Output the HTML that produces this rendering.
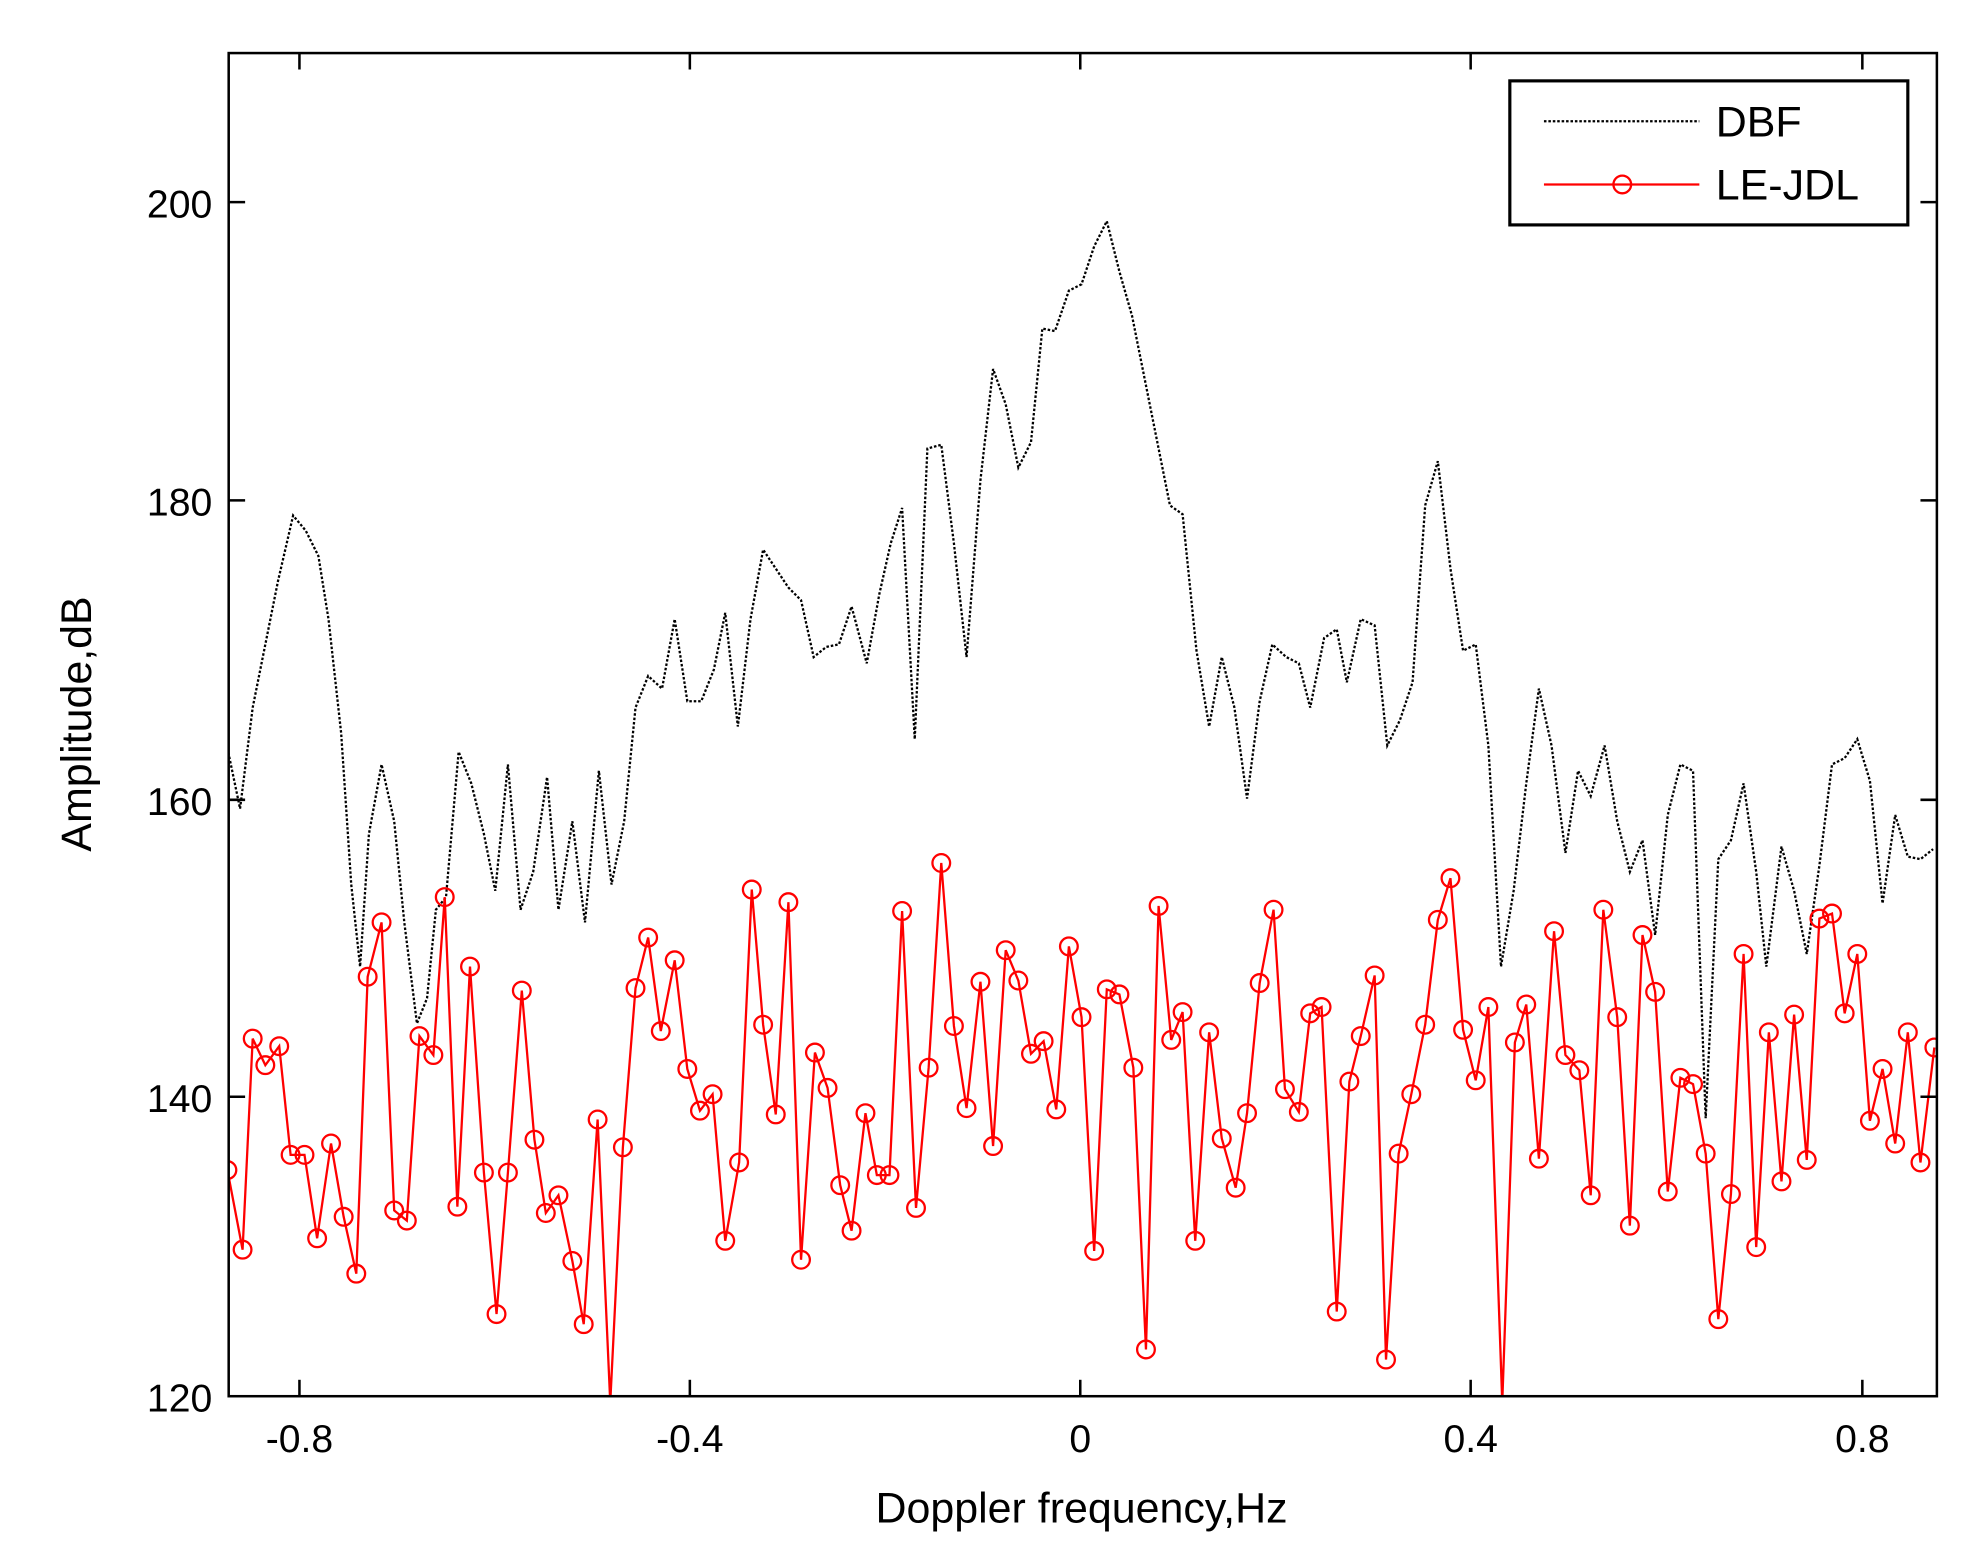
<!DOCTYPE html>
<html><head><style>html,body{margin:0;padding:0;background:#fff}svg{display:block}</style></head>
<body>
<svg width="1971" height="1563" viewBox="0 0 1560 1237" preserveAspectRatio="none" xmlns="http://www.w3.org/2000/svg" font-family="Liberation Sans, sans-serif">
<rect x="0" y="0" width="1560" height="1237" fill="#fff"/>
<defs><clipPath id="c"><rect x="181" y="42" width="1352" height="1063"/></clipPath></defs>
<g clip-path="url(#c)">
<polyline fill="none" stroke="#000" stroke-width="1.8" stroke-dasharray="2,1.5" points="180,592 190,640 200,560 210,510 220,460 232,408 242,420 252,440 260,490 270,580 278,700 285,765 292,660 302,605 312,650 320,730 330,810 338,790 345,720 353,710 363,595 373,620 383,660 392,705 402,605 412,720 422,690 433,615 442,720 453,650 463,730 474,610 484,700 494,650 503,560 513,535 524,545 534,490 544,555 555,555 565,530 574,485 584,575 594,490 604,435 614,450 624,465 634,475 644,520 654,512 664,510 674,480 686,525 696,470 705,430 714,402 724,585 734,355 745,352 755,430 765,520 776,380 786,292 796,320 806,370 816,350 825,260 835,262 846,230 856,225 866,195 876,175 886,215 896,250 906,300 916,350 926,400 936,407 947,515 957,575 967,520 977,560 987,632 997,555 1007,510 1018,520 1028,525 1037,560 1048,505 1058,498 1066,540 1077,490 1088,495 1098,590 1108,570 1118,540 1128,400 1138,365 1148,450 1158,515 1168,510 1178,590 1188,765 1198,705 1208,620 1218,545 1228,590 1239,675 1249,610 1259,630 1270,590 1280,650 1290,690 1300,665 1310,740 1320,645 1330,605 1340,610 1350,885 1360,680 1370,665 1380,620 1390,690 1398,765 1410,670 1420,705 1430,755 1440,685 1450,605 1460,600 1470,585 1480,618 1490,715 1500,645 1510,678 1520,680 1530,672"/>
<polyline fill="none" stroke="#f00" stroke-width="1.8" points="180,926 192,989 200,822 210,843 221,828 230,914 241,914 251,980 262,905 272,963 282,1008 291,773 302,730 312,958 322,966 332,820 343,835 352,710 362,955 372,765 383,928 393,1040 402,928 413,784 423,902 432,960 442,946 453,998 462,1048 473,886 483,1110 493,908 503,782 513,742 523,816 534,760 544,846 554,879 564,866 574,982 585,920 595,704 604,811 614,882 624,714 634,997 645,833 655,861 665,938 674,974 685,881 694,930 704,930 714,721 725,956 735,845 745,683 755,812 765,877 776,777 786,907 796,752 806,776 816,834 826,824 836,878 846,749 856,805 866,990 876,783 886,787 897,845 907,1068 917,717 927,823 936,801 946,982 957,817 967,901 978,940 987,881 997,778 1008,720 1017,862 1028,880 1037,802 1046,797 1058,1038 1068,856 1077,820 1088,772 1097,1076 1107,913 1117,866 1128,811 1138,728 1148,695 1158,815 1168,855 1178,797 1189,1110 1199,825 1208,795 1218,917 1230,737 1239,835 1250,847 1259,946 1269,720 1280,805 1290,970 1300,740 1310,785 1320,943 1330,853 1340,858 1350,913 1360,1044 1370,945 1380,755 1390,987 1400,817 1410,935 1420,803 1430,918 1440,727 1450,723 1460,802 1470,755 1480,887 1490,846 1500,905 1510,817 1520,920 1531,829"/>
<g fill="none" stroke="#f00" stroke-width="1.8">
<circle cx="180" cy="926" r="7"/><circle cx="192" cy="989" r="7"/><circle cx="200" cy="822" r="7"/><circle cx="210" cy="843" r="7"/><circle cx="221" cy="828" r="7"/><circle cx="230" cy="914" r="7"/><circle cx="241" cy="914" r="7"/><circle cx="251" cy="980" r="7"/><circle cx="262" cy="905" r="7"/><circle cx="272" cy="963" r="7"/><circle cx="282" cy="1008" r="7"/><circle cx="291" cy="773" r="7"/><circle cx="302" cy="730" r="7"/><circle cx="312" cy="958" r="7"/><circle cx="322" cy="966" r="7"/><circle cx="332" cy="820" r="7"/><circle cx="343" cy="835" r="7"/><circle cx="352" cy="710" r="7"/><circle cx="362" cy="955" r="7"/><circle cx="372" cy="765" r="7"/><circle cx="383" cy="928" r="7"/><circle cx="393" cy="1040" r="7"/><circle cx="402" cy="928" r="7"/><circle cx="413" cy="784" r="7"/><circle cx="423" cy="902" r="7"/><circle cx="432" cy="960" r="7"/><circle cx="442" cy="946" r="7"/><circle cx="453" cy="998" r="7"/><circle cx="462" cy="1048" r="7"/><circle cx="473" cy="886" r="7"/><circle cx="493" cy="908" r="7"/><circle cx="503" cy="782" r="7"/><circle cx="513" cy="742" r="7"/><circle cx="523" cy="816" r="7"/><circle cx="534" cy="760" r="7"/><circle cx="544" cy="846" r="7"/><circle cx="554" cy="879" r="7"/><circle cx="564" cy="866" r="7"/><circle cx="574" cy="982" r="7"/><circle cx="585" cy="920" r="7"/><circle cx="595" cy="704" r="7"/><circle cx="604" cy="811" r="7"/><circle cx="614" cy="882" r="7"/><circle cx="624" cy="714" r="7"/><circle cx="634" cy="997" r="7"/><circle cx="645" cy="833" r="7"/><circle cx="655" cy="861" r="7"/><circle cx="665" cy="938" r="7"/><circle cx="674" cy="974" r="7"/><circle cx="685" cy="881" r="7"/><circle cx="694" cy="930" r="7"/><circle cx="704" cy="930" r="7"/><circle cx="714" cy="721" r="7"/><circle cx="725" cy="956" r="7"/><circle cx="735" cy="845" r="7"/><circle cx="745" cy="683" r="7"/><circle cx="755" cy="812" r="7"/><circle cx="765" cy="877" r="7"/><circle cx="776" cy="777" r="7"/><circle cx="786" cy="907" r="7"/><circle cx="796" cy="752" r="7"/><circle cx="806" cy="776" r="7"/><circle cx="816" cy="834" r="7"/><circle cx="826" cy="824" r="7"/><circle cx="836" cy="878" r="7"/><circle cx="846" cy="749" r="7"/><circle cx="856" cy="805" r="7"/><circle cx="866" cy="990" r="7"/><circle cx="876" cy="783" r="7"/><circle cx="886" cy="787" r="7"/><circle cx="897" cy="845" r="7"/><circle cx="907" cy="1068" r="7"/><circle cx="917" cy="717" r="7"/><circle cx="927" cy="823" r="7"/><circle cx="936" cy="801" r="7"/><circle cx="946" cy="982" r="7"/><circle cx="957" cy="817" r="7"/><circle cx="967" cy="901" r="7"/><circle cx="978" cy="940" r="7"/><circle cx="987" cy="881" r="7"/><circle cx="997" cy="778" r="7"/><circle cx="1008" cy="720" r="7"/><circle cx="1017" cy="862" r="7"/><circle cx="1028" cy="880" r="7"/><circle cx="1037" cy="802" r="7"/><circle cx="1046" cy="797" r="7"/><circle cx="1058" cy="1038" r="7"/><circle cx="1068" cy="856" r="7"/><circle cx="1077" cy="820" r="7"/><circle cx="1088" cy="772" r="7"/><circle cx="1097" cy="1076" r="7"/><circle cx="1107" cy="913" r="7"/><circle cx="1117" cy="866" r="7"/><circle cx="1128" cy="811" r="7"/><circle cx="1138" cy="728" r="7"/><circle cx="1148" cy="695" r="7"/><circle cx="1158" cy="815" r="7"/><circle cx="1168" cy="855" r="7"/><circle cx="1178" cy="797" r="7"/><circle cx="1199" cy="825" r="7"/><circle cx="1208" cy="795" r="7"/><circle cx="1218" cy="917" r="7"/><circle cx="1230" cy="737" r="7"/><circle cx="1239" cy="835" r="7"/><circle cx="1250" cy="847" r="7"/><circle cx="1259" cy="946" r="7"/><circle cx="1269" cy="720" r="7"/><circle cx="1280" cy="805" r="7"/><circle cx="1290" cy="970" r="7"/><circle cx="1300" cy="740" r="7"/><circle cx="1310" cy="785" r="7"/><circle cx="1320" cy="943" r="7"/><circle cx="1330" cy="853" r="7"/><circle cx="1340" cy="858" r="7"/><circle cx="1350" cy="913" r="7"/><circle cx="1360" cy="1044" r="7"/><circle cx="1370" cy="945" r="7"/><circle cx="1380" cy="755" r="7"/><circle cx="1390" cy="987" r="7"/><circle cx="1400" cy="817" r="7"/><circle cx="1410" cy="935" r="7"/><circle cx="1420" cy="803" r="7"/><circle cx="1430" cy="918" r="7"/><circle cx="1440" cy="727" r="7"/><circle cx="1450" cy="723" r="7"/><circle cx="1460" cy="802" r="7"/><circle cx="1470" cy="755" r="7"/><circle cx="1480" cy="887" r="7"/><circle cx="1490" cy="846" r="7"/><circle cx="1500" cy="905" r="7"/><circle cx="1510" cy="817" r="7"/><circle cx="1520" cy="920" r="7"/><circle cx="1531" cy="829" r="7"/>
</g>
</g>
<rect x="181" y="42" width="1352" height="1063" fill="none" stroke="#000" stroke-width="2"/>
<g stroke="#000" stroke-width="2">
<line x1="237" y1="1105" x2="237" y2="1092"/><line x1="237" y1="42" x2="237" y2="55"/>
<line x1="546" y1="1105" x2="546" y2="1092"/><line x1="546" y1="42" x2="546" y2="55"/>
<line x1="855" y1="1105" x2="855" y2="1092"/><line x1="855" y1="42" x2="855" y2="55"/>
<line x1="1164" y1="1105" x2="1164" y2="1092"/><line x1="1164" y1="42" x2="1164" y2="55"/>
<line x1="1474" y1="1105" x2="1474" y2="1092"/><line x1="1474" y1="42" x2="1474" y2="55"/>
<line x1="181" y1="160" x2="194" y2="160"/><line x1="1533" y1="160" x2="1520" y2="160"/>
<line x1="181" y1="396" x2="194" y2="396"/><line x1="1533" y1="396" x2="1520" y2="396"/>
<line x1="181" y1="633" x2="194" y2="633"/><line x1="1533" y1="633" x2="1520" y2="633"/>
<line x1="181" y1="868" x2="194" y2="868"/><line x1="1533" y1="868" x2="1520" y2="868"/>
</g>
<g font-size="31" fill="#000" text-anchor="end">
<text x="168" y="172">200</text><text x="168" y="408">180</text><text x="168" y="645">160</text><text x="168" y="880">140</text><text x="168" y="1117">120</text>
</g>
<g font-size="31" fill="#000" text-anchor="middle">
<text x="237" y="1149">-0.8</text><text x="546" y="1149">-0.4</text><text x="855" y="1149">0</text><text x="1164" y="1149">0.4</text><text x="1474" y="1149">0.8</text>
<text x="856" y="1205" font-size="34">Doppler frequency,Hz</text>
<text transform="translate(72,573) rotate(-90)" font-size="34">Amplitude,dB</text>
</g>
<rect x="1195" y="64" width="315" height="114" fill="#fff" stroke="#000" stroke-width="2.5"/>
<line x1="1222" y1="96" x2="1345" y2="96" stroke="#000" stroke-width="1.8" stroke-dasharray="2,1.5"/>
<line x1="1222" y1="146" x2="1345" y2="146" stroke="#f00" stroke-width="1.8"/>
<circle cx="1284" cy="146" r="7" fill="none" stroke="#f00" stroke-width="1.8"/>
<text x="1358" y="108" font-size="34">DBF</text>
<text x="1358" y="158" font-size="34">LE-JDL</text>
</svg>
</body></html>
